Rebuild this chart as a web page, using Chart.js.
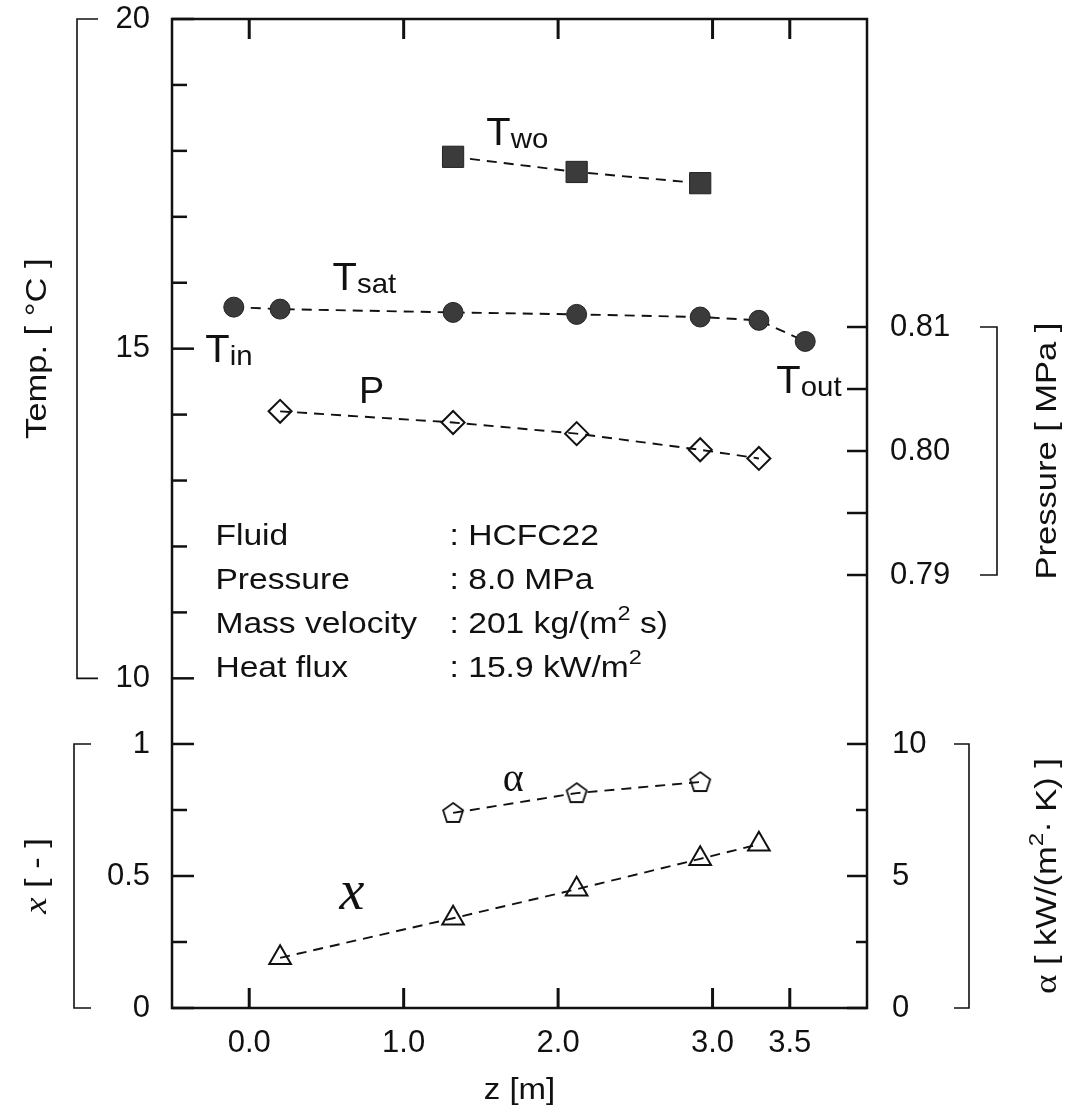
<!DOCTYPE html>
<html>
<head>
<meta charset="utf-8">
<script src="https://cdn.jsdelivr.net/npm/chart.js@4.4.1/dist/chart.umd.min.js"></script>
<style>
  html, body { margin: 0; padding: 0; background: #fff; }
  #wrap { width: 1066px; height: 1116px; position: relative; }
</style>
</head>
<body>
<div id="wrap"><canvas id="myChart"></canvas></div>
<script>
// position along tube z [m]
var zSat = [-0.1, 0.2, 1.32, 2.12, 2.92, 3.3, 3.6];
var tSat = [15.63, 15.60, 15.55, 15.52, 15.48, 15.43, 15.11];
var zWall = [1.32, 2.12, 2.92];
var tWall = [17.91, 17.68, 17.51];
var zPres = [0.2, 1.32, 2.12, 2.92, 3.3];
var pres = [0.8032, 0.8023, 0.8014, 0.8001, 0.7994];
var zQual = [0.2, 1.32, 2.12, 2.92, 3.3];
var quality = [0.19, 0.34, 0.45, 0.565, 0.62];
var zAlpha = [1.32, 2.12, 2.92];
var alpha = [7.39, 8.14, 8.56];

// ticks
var zTicks = [0, 1, 2, 3, 3.5];
var zTickLabels = ['0.0', '1.0', '2.0', '3.0', '3.5'];
var tempMajor = [10, 15, 20];
var tempMinor = [11, 12, 13, 14, 16, 17, 18, 19];
var qualMajor = [0, 0.5, 1];
var qualLabels = ['0', '0.5', '1'];
var qualMinor = [0.25, 0.75];
var presMajor = [0.79, 0.80, 0.81];
var presLabels = ['0.79', '0.80', '0.81'];
var presMinor = [0.795, 0.805];
var alphaMajor = [0, 5, 10];
var alphaMinor = [2.5, 7.5];

var SANS = '"Liberation Sans", Arial, sans-serif';
var SERIF = '"Liberation Serif", "DejaVu Serif", serif';

function pts(xs, ys) {
  return xs.map(function (x, i) { return { x: x, y: ys[i] }; });
}

// pentagon marker for alpha
var pent = document.createElement('canvas');
pent.width = 28; pent.height = 28;
(function () {
  var g = pent.getContext('2d');
  g.beginPath();
  for (var i = 0; i < 5; i++) {
    var a = -Math.PI / 2 + i * 2 * Math.PI / 5;
    var px = 14 + 10.5 * Math.cos(a), py = 14.5 + 10.5 * Math.sin(a);
    if (i === 0) g.moveTo(px, py); else g.lineTo(px, py);
  }
  g.closePath();
  g.lineWidth = 1.8;
  g.strokeStyle = '#111';
  g.stroke();
})();

// draws text made of pieces [text, font, dy]
function rich(ctx, parts, x, y, align, sx) {
  sx = sx || 1;
  var w = 0;
  parts.forEach(function (p) { ctx.font = p[1]; w += ctx.measureText(p[0]).width; });
  ctx.save();
  ctx.translate(x, y);
  ctx.scale(sx, 1);
  var cx = align === 'center' ? -w / 2 : (align === 'right' ? -w : 0);
  ctx.textAlign = 'left';
  ctx.textBaseline = 'alphabetic';
  parts.forEach(function (p) {
    ctx.font = p[1];
    ctx.fillText(p[0], cx, p[2] || 0);
    cx += ctx.measureText(p[0]).width;
  });
  ctx.restore();
}

function vtitle(ctx, parts, x, y) {
  ctx.save();
  ctx.translate(x, y);
  ctx.rotate(-Math.PI / 2);
  rich(ctx, parts, 0, 11, 'center', 1.15);
  ctx.restore();
}

var framePlugin = {
  id: 'frame',
  afterDraw: function (chart) {
    var ctx = chart.ctx, a = chart.chartArea, s = chart.scales;
    var sx = s.x, yT = s.yT, yX = s.yX, yP = s.yP, yA = s.yA;
    function ln(x1, y1, x2, y2) { ctx.beginPath(); ctx.moveTo(x1, y1); ctx.lineTo(x2, y2); ctx.stroke(); }
    ctx.save();
    ctx.strokeStyle = '#111';
    ctx.fillStyle = '#111';
    ctx.lineWidth = 2.5;
    ctx.strokeRect(a.left, a.top, a.right - a.left, a.bottom - a.top);

    // z ticks, top and bottom
    ctx.lineWidth = 3;
    ctx.font = '31px ' + SANS;
    ctx.textAlign = 'center';
    ctx.textBaseline = 'middle';
    zTicks.forEach(function (v, i) {
      var px = sx.getPixelForValue(v);
      ln(px, a.bottom, px, a.bottom - 20);
      ln(px, a.top, px, a.top + 20);
      ctx.fillText(zTickLabels[i], px, a.bottom + 35);
    });

    // left ticks
    ctx.lineWidth = 2.5;
    tempMajor.forEach(function (v) { var py = yT.getPixelForValue(v); ln(a.left, py, a.left + 22, py); });
    tempMinor.forEach(function (v) { var py = yT.getPixelForValue(v); ln(a.left, py, a.left + 15, py); });
    qualMajor.forEach(function (v) { var py = yX.getPixelForValue(v); ln(a.left, py, a.left + 22, py); });
    qualMinor.forEach(function (v) { var py = yX.getPixelForValue(v); ln(a.left, py, a.left + 15, py); });
    // right ticks
    presMajor.concat(presMinor).forEach(function (v) { var py = yP.getPixelForValue(v); ln(a.right, py, a.right - 20, py); });
    alphaMajor.forEach(function (v) { var py = yA.getPixelForValue(v); ln(a.right, py, a.right - 20, py); });
    alphaMinor.forEach(function (v) { var py = yA.getPixelForValue(v); ln(a.right, py, a.right - 11, py); });

    // tick labels
    ctx.textAlign = 'right';
    tempMajor.forEach(function (v) { ctx.fillText(String(v), a.left - 22, yT.getPixelForValue(v)); });
    qualMajor.forEach(function (v, i) { ctx.fillText(qualLabels[i], a.left - 22, yX.getPixelForValue(v)); });
    ctx.textAlign = 'left';
    presMajor.forEach(function (v, i) { ctx.fillText(presLabels[i], a.right + 23, yP.getPixelForValue(v)); });
    alphaMajor.forEach(function (v) { ctx.fillText(String(v), a.right + 25, yA.getPixelForValue(v)); });

    // brackets
    ctx.lineWidth = 1.6;
    function bracket(x, xs, y1, y2) {
      ctx.beginPath(); ctx.moveTo(xs, y1); ctx.lineTo(x, y1); ctx.lineTo(x, y2); ctx.lineTo(xs, y2); ctx.stroke();
    }
    bracket(a.left - 95, a.left - 74, yT.getPixelForValue(20), yT.getPixelForValue(10));
    bracket(a.left - 98, a.left - 81, yX.getPixelForValue(1), yX.getPixelForValue(0));
    bracket(a.right + 130, a.right + 113, yP.getPixelForValue(0.81), yP.getPixelForValue(0.79));
    bracket(a.right + 102, a.right + 87, yA.getPixelForValue(10), yA.getPixelForValue(0));

    // axis titles
    var F = '30px ' + SANS;
    vtitle(ctx, [['Temp. [ °C ]', F]], 35, yT.getPixelForValue(15));
    vtitle(ctx, [['x', 'italic 32px ' + SERIF], [' [ - ]', F]], 35, yX.getPixelForValue(0.5));
    vtitle(ctx, [['Pressure [ MPa ]', F]], 1045, yP.getPixelForValue(0.80));
    vtitle(ctx, [['α', '32px ' + SERIF], [' [ kW/(m', F], ['2', '21px ' + SANS, -13], ['· K) ]', F]], 1045, yA.getPixelForValue(5));
    rich(ctx, [['z [m]', F]], (a.left + a.right) / 2, 1099, 'center', 1.1);

    // series labels
    var TF = '38px ' + SANS, SF = '28px ' + SANS;
    function tlab(sub, z, t) {
      rich(ctx, [['T', TF], [sub, SF, 3]], sx.getPixelForValue(z), yT.getPixelForValue(t), 'left', 1.05);
    }
    tlab('wo', 1.535, 18.09);
    tlab('sat', 0.54, 15.89);
    tlab('in', -0.284, 14.80);
    tlab('out', 3.413, 14.33);
    rich(ctx, [['P', '36px ' + SANS]], sx.getPixelForValue(0.71), yT.getPixelForValue(14.18), 'left', 1.05);
    rich(ctx, [['α', '40px ' + SERIF]], sx.getPixelForValue(1.71), yA.getPixelForValue(8.6) + 10, 'center');
    rich(ctx, [['x', 'italic 56px ' + SERIF]], sx.getPixelForValue(0.665), yX.getPixelForValue(0.42) + 12, 'center');

    // conditions
    var rows = [
      ['Fluid', [[': HCFC22', F]], 12.19],
      ['Pressure', [[': 8.0 MPa', F]], 11.52],
      ['Mass velocity', [[': 201 kg/(m', F], ['2', '21px ' + SANS, -13], [' s)', F]], 10.85],
      ['Heat flux', [[': 15.9 kW/m', F], ['2', '21px ' + SANS, -13]], 10.19]
    ];
    rows.forEach(function (r) {
      var py = yT.getPixelForValue(r[2]) + 11;
      rich(ctx, [[r[0], F]], sx.getPixelForValue(-0.219), py, 'left', 1.12);
      rich(ctx, r[1], sx.getPixelForValue(1.297), py, 'left', 1.12);
    });
    ctx.restore();
  }
};

var dash = [10, 7];
var ctx = document.getElementById('myChart');
var myChart = new Chart(ctx, {
  type: 'scatter',
  data: {
    datasets: [{
      label: 'Two',
      data: pts(zWall, tWall),
      yAxisID: 'yT',
      showLine: true,
      borderColor: '#111',
      borderWidth: 1.9,
      borderDash: dash,
      pointStyle: 'rect',
      pointRadius: 15,
      pointBackgroundColor: '#3b3b3b',
      pointBorderColor: '#222',
      pointBorderWidth: 1
    }, {
      label: 'Tsat',
      data: pts(zSat, tSat),
      yAxisID: 'yT',
      showLine: true,
      borderColor: '#111',
      borderWidth: 1.9,
      borderDash: dash,
      pointStyle: 'circle',
      pointRadius: 10,
      pointBackgroundColor: '#3b3b3b',
      pointBorderColor: '#222',
      pointBorderWidth: 1
    }, {
      label: 'P',
      data: pts(zPres, pres),
      yAxisID: 'yP',
      showLine: true,
      borderColor: '#111',
      borderWidth: 1.9,
      borderDash: dash,
      pointStyle: 'rectRot',
      pointRadius: 11.5,
      pointBackgroundColor: 'rgba(255,255,255,0)',
      pointBorderColor: '#111',
      pointBorderWidth: 2
    }, {
      label: 'x',
      data: pts(zQual, quality),
      yAxisID: 'yX',
      showLine: true,
      borderColor: '#111',
      borderWidth: 1.9,
      borderDash: dash,
      pointStyle: 'triangle',
      pointRadius: 12.5,
      pointBackgroundColor: 'rgba(255,255,255,0)',
      pointBorderColor: '#111',
      pointBorderWidth: 2
    }, {
      label: 'alpha',
      data: pts(zAlpha, alpha),
      yAxisID: 'yA',
      showLine: true,
      borderColor: '#111',
      borderWidth: 1.9,
      borderDash: dash,
      pointStyle: pent,
      pointRadius: 11
    }]
  },
  options: {
    responsive: true,
    maintainAspectRatio: false,
    animation: false,
    events: [],
    layout: { padding: { left: 172, right: 199, top: 19, bottom: 108 } },
    plugins: { legend: { display: false }, tooltip: { enabled: false } },
    scales: {
      x: { type: 'linear', min: -0.5, max: 4.0, display: false },
      yT: { type: 'linear', position: 'left', min: 5, max: 20, display: false },
      yX: { type: 'linear', position: 'left', min: 0, max: 3.746, display: false },
      yP: { type: 'linear', position: 'right', min: 0.75508, max: 0.83484, display: false },
      yA: { type: 'linear', position: 'right', min: 0, max: 37.46, display: false }
    }
  },
  plugins: [framePlugin]
});
</script>
</body>
</html>
